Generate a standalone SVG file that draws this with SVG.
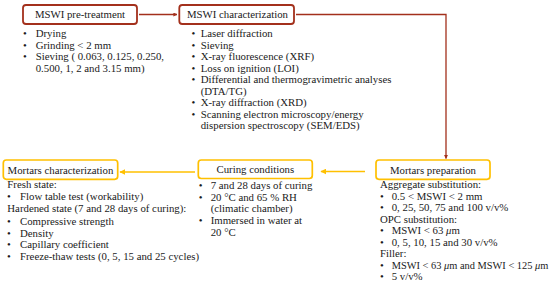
<svg xmlns="http://www.w3.org/2000/svg" width="550" height="288" viewBox="0 0 550 288">
<defs>
<style>
text{font-family:"Liberation Serif","Times New Roman",serif;font-size:10.8px;fill:#1a1a1a}
.t{text-anchor:middle}
.b{text-anchor:middle}
.red{fill:#fff;stroke:#A3301C;stroke-width:1.8}
.gold{fill:#fff;stroke:#FFC000;stroke-width:1.7}
.lr{fill:none;stroke:#A3301C;stroke-width:1.3}
.lg{fill:none;stroke:#FFC000;stroke-width:1.5}
</style>
<marker id="ar" viewBox="0 0 10 10" refX="9" refY="5" markerWidth="4" markerHeight="4" orient="auto" markerUnits="userSpaceOnUse"><path d="M0,0 L10,5 L0,10 z" fill="#A3301C"/></marker>
<marker id="ag" viewBox="0 0 10 10" refX="9" refY="5" markerWidth="6" markerHeight="6" orient="auto" markerUnits="userSpaceOnUse"><path d="M0,0 L10,5 L0,10 z" fill="#FFC000"/></marker>
</defs>
<rect width="550" height="288" fill="#fff"/>
<g id="connectors">
<path class="lr" d="M139,14.5 H177" marker-end="url(#ar)"/>
<path class="lr" d="M296,14.5 H446 V158.5" marker-end="url(#ar)"/>
<path class="lg" d="M365,171.5 H321" marker-end="url(#ag)"/>
<path class="lg" d="M195,172 H120" marker-end="url(#ag)"/>
</g>
<g id="pretreatment">
<rect class="red" x="23" y="5" width="114" height="19" rx="3"/>
<text class="t" x="80" y="18">MSWI pre-treatment</text>
<text class="b" x="25" y="37">•</text><text x="35.7" y="37">Drying</text>
<text class="b" x="25" y="48.5">•</text><text x="35.7" y="48.5">Grinding &lt; 2 mm</text>
<text class="b" x="25" y="60">•</text><text x="35.7" y="60">Sieving ( 0.063, 0.125, 0.250,</text>
<text x="35.7" y="71.5">0.500, 1, 2 and 3.15 mm)</text>
</g>
<g id="characterization">
<rect class="red" x="179.3" y="5" width="114.7" height="19" rx="3"/>
<text class="t" x="237.5" y="18">MSWI characterization</text>
<text class="b" x="193.3" y="37">•</text><text x="200.7" y="37">Laser diffraction</text>
<text class="b" x="193.3" y="48.5">•</text><text x="200.7" y="48.5">Sieving</text>
<text class="b" x="193.3" y="60">•</text><text x="200.7" y="60">X-ray fluorescence (XRF)</text>
<text class="b" x="193.3" y="71.5">•</text><text x="200.7" y="71.5">Loss on ignition (LOI)</text>
<text class="b" x="193.3" y="83">•</text><text x="200.7" y="83">Differential and thermogravimetric analyses</text>
<text x="200.7" y="94.5">(DTA/TG)</text>
<text class="b" x="193.3" y="106">•</text><text x="200.7" y="106">X-ray diffraction (XRD)</text>
<text class="b" x="193.3" y="117.5">•</text><text x="200.7" y="117.5">Scanning electron microscopy/energy</text>
<text x="200.7" y="129">dispersion spectroscopy (SEM/EDS)</text>
</g>
<g id="preparation">
<rect class="gold" x="376" y="160" width="114" height="19.3" rx="3"/>
<text class="t" x="433" y="173.5">Mortars preparation</text>
<text x="380" y="188">Aggregate substitution:</text>
<text class="b" x="382" y="199.5">•</text><text x="391.7" y="199.5">0.5 &lt; MSWI &lt; 2 mm</text>
<text class="b" x="382" y="211">•</text><text x="391.7" y="211">0, 25, 50, 75 and 100 v/v%</text>
<text x="380" y="222.5">OPC substitution:</text>
<text class="b" x="382" y="234">•</text><text x="391.7" y="234">MSWI &lt; 63 <tspan font-style="italic">μ</tspan>m</text>
<text class="b" x="382" y="245.5">•</text><text x="391.7" y="245.5">0, 5, 10, 15 and 30 v/v%</text>
<text x="380" y="257">Filler:</text>
<text class="b" x="382" y="268.5">•</text><text x="391.7" y="268.5" style="font-size:10.4px">MSWI &lt; 63 <tspan font-style="italic">μ</tspan>m and MSWI &lt; 125 <tspan font-style="italic">μ</tspan>m</text>
<text class="b" x="382" y="280">•</text><text x="391.7" y="280">5 v/v%</text>
</g>
<g id="curing">
<rect class="gold" x="198.3" y="160" width="114" height="18.5" rx="3"/>
<text class="t" x="255.3" y="173">Curing conditions</text>
<text class="b" x="200.7" y="189">•</text><text x="210.7" y="189">7 and 28 days of curing</text>
<text class="b" x="200.7" y="200.7">•</text><text x="210.7" y="200.7">20 °C and 65 % RH</text>
<text x="210.7" y="212.3">(climatic chamber)</text>
<text class="b" x="200.7" y="224">•</text><text x="210.7" y="224">Immersed in water at</text>
<text x="210.7" y="235.7">20 °C</text>
</g>
<g id="mortarschar">
<rect class="gold" x="3.3" y="160" width="114.4" height="19.3" rx="3"/>
<text class="t" x="60.5" y="173.5">Mortars characterization</text>
<text x="7.3" y="188">Fresh state:</text>
<text class="b" x="8.8" y="200">•</text><text x="20" y="200">Flow table test (workability)</text>
<text x="7.3" y="212">Hardened state (7 and 28 days of curing):</text>
<text class="b" x="8.8" y="224.5">•</text><text x="20" y="224.5">Compressive strength</text>
<text class="b" x="8.8" y="236.5">•</text><text x="20" y="236.5">Density</text>
<text class="b" x="8.8" y="248.3">•</text><text x="20" y="248.3">Capillary coefficient</text>
<text class="b" x="8.8" y="260">•</text><text x="20" y="260">Freeze-thaw tests (0, 5, 15 and 25 cycles)</text>
</g>
</svg>
